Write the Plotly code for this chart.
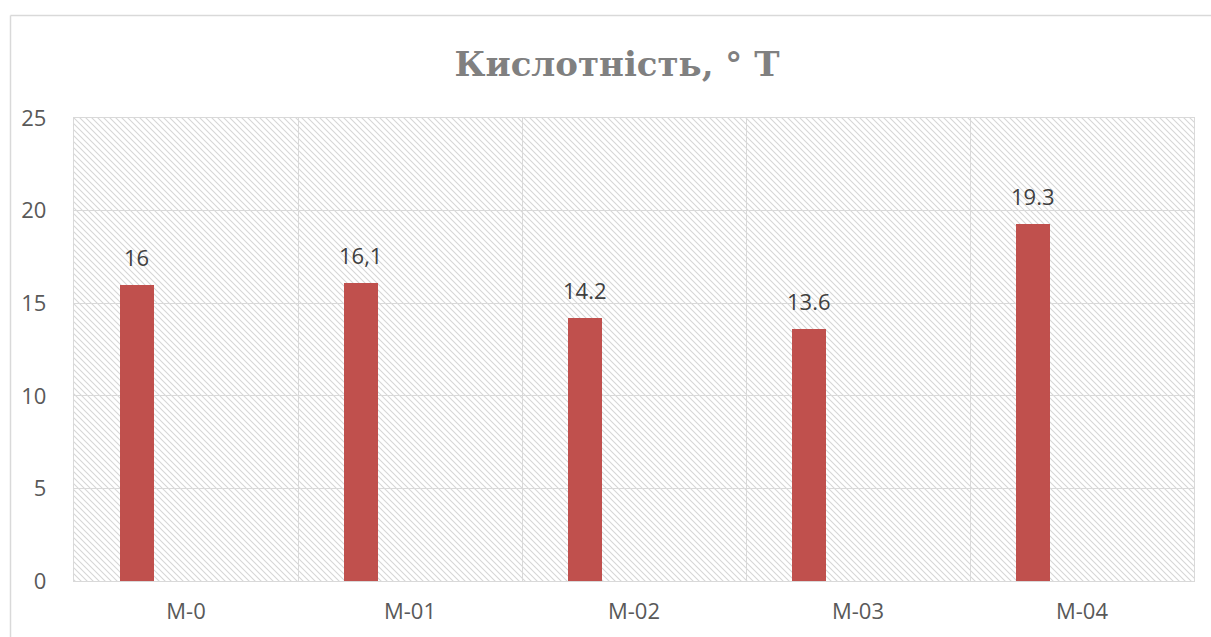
import base64
import plotly.graph_objects as go

# Chart data
categories = ["M-0", "M-01", "M-02", "M-03", "M-04"]
acidity = [16, 16.1, 14.2, 13.6, 19.3]
acidity_labels = ["16", "16,1", "14.2", "13.6", "19.3"]
y_ticks = [0, 5, 10, 15, 20, 25]

W, H = 1211, 637
ML, MR, MT, MB = 74, 17, 118, 56
PW, PH = W - ML - MR, H - MT - MB

BAR_WIDTH = 0.152
BAR_OFFSET = -0.295
CAT_PX = PW / len(categories)

# Diagonal hatch used as the plot-area fill
hatch_svg = (
    '<svg xmlns="http://www.w3.org/2000/svg" width="1120" height="463">'
    '<defs><pattern id="h" width="6" height="6" patternUnits="userSpaceOnUse">'
    '<path d="M-1,-1 L7,7 M-1,5 L1,7 M5,-1 L7,1" stroke="#d6d6d6" stroke-width="1.1"/>'
    '</pattern></defs><rect width="100%" height="100%" fill="url(#h)"/></svg>'
)
hatch_uri = "data:image/svg+xml;base64," + base64.b64encode(hatch_svg.encode()).decode()

fig = go.Figure()
fig.add_trace(go.Bar(
    x=categories,
    y=acidity,
    marker=dict(color="#C0504D", line=dict(width=0)),
    width=BAR_WIDTH,
    offset=BAR_OFFSET,
    hoverinfo="x+y",
))

# value labels above each bar
label_shift = (BAR_OFFSET + BAR_WIDTH / 2) * CAT_PX
for cat, val, lab in zip(categories, acidity, acidity_labels):
    fig.add_annotation(
        x=cat, y=val, text=lab, showarrow=False,
        xshift=label_shift, yshift=11, yanchor="bottom",
        font=dict(family="Open Sans, sans-serif", size=22, color="#404040"),
    )

# outer chart frame (top and left edges)
fx0 = (10.5 - ML) / PW
fy_top = (H - MB - 15.5) / PH
fy_bot = (H - MB - H) / PH
fx1 = (W + 5 - ML) / PW
fig.add_shape(type="line", xref="paper", yref="paper", x0=fx0, x1=fx1, y0=fy_top, y1=fy_top,
              line=dict(color="#d9d9d9", width=1.5))
fig.add_shape(type="line", xref="paper", yref="paper", x0=fx0, x1=fx0, y0=fy_bot, y1=fy_top,
              line=dict(color="#d9d9d9", width=1.5))

fig.add_layout_image(dict(
    source=hatch_uri, xref="paper", yref="paper", x=0, y=1, sizex=1, sizey=1,
    xanchor="left", yanchor="top", sizing="stretch", layer="below",
))

fig.update_layout(
    width=W, height=H,
    margin=dict(l=ML, r=MR, t=MT, b=MB, autoexpand=False),
    paper_bgcolor="white",
    plot_bgcolor="white",
    showlegend=False,
    bargap=0,
    title=dict(
        text="<b>Кислотність, ° Т</b>",
        x=617 / W, xref="container", xanchor="center",
        y=1 - 64 / H, yref="container", yanchor="middle",
        font=dict(family="DejaVu Serif, serif", size=34, color="#808080"),
    ),
    xaxis=dict(
        type="category",
        automargin=False,
        tickson="boundaries",
        showgrid=True, gridcolor="#d9d9d9", gridwidth=1.3,
        showline=True, linecolor="#d9d9d9", linewidth=1.3, mirror=True,
        ticks="", ticklabelstandoff=10,
        tickfont=dict(family="Open Sans, sans-serif", size=22, color="#595959"),
    ),
    yaxis=dict(
        range=[0, 25],
        automargin=False,
        tickvals=y_ticks,
        showgrid=True, gridcolor="#d9d9d9", gridwidth=1.3,
        showline=True, linecolor="#d9d9d9", linewidth=1.3, mirror=True,
        zeroline=False,
        ticks="", ticklabelstandoff=22,
        tickfont=dict(family="Open Sans, sans-serif", size=22, color="#595959"),
    ),
)

fig.write_html("out.html")
